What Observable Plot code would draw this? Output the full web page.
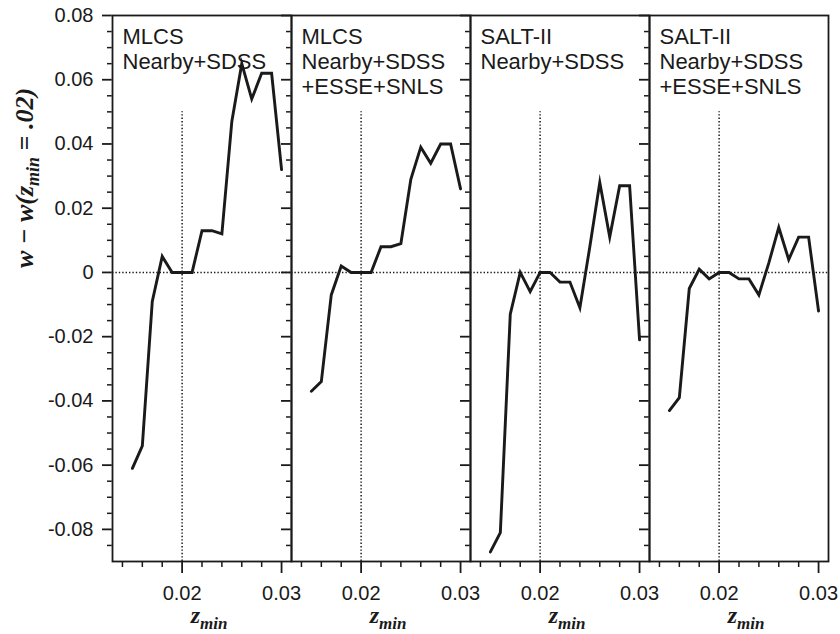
<!DOCTYPE html>
<html><head><meta charset="utf-8">
<script src="https://cdn.jsdelivr.net/npm/d3@7"></script>
<script src="https://cdn.jsdelivr.net/npm/@observablehq/plot@0.6"></script>
<style>
html,body{margin:0;padding:0;background:#fff;}
#chart{width:840px;height:634px;}
</style></head><body><div id="chart"></div>
<script>
// ---- data ----
const panels = ["p1", "p2", "p3", "p4"];
const panelTitles = [
  "MLCS\nNearby+SDSS",
  "MLCS\nNearby+SDSS\n+ESSE+SNLS",
  "SALT-II\nNearby+SDSS",
  "SALT-II\nNearby+SDSS\n+ESSE+SNLS"
];
const zMin = [0.015, 0.016, 0.017, 0.018, 0.019, 0.020, 0.021, 0.022, 0.023, 0.024, 0.025, 0.026, 0.027, 0.028, 0.029, 0.030];
const mlcsNearbySdss      = [-0.061, -0.054, -0.009, 0.005, 0, 0, 0, 0.013, 0.013, 0.012, 0.047, 0.065, 0.054, 0.062, 0.062, 0.032];
const mlcsAll             = [-0.037, -0.034, -0.007, 0.002, 0, 0, 0, 0.008, 0.008, 0.009, 0.029, 0.039, 0.034, 0.040, 0.040, 0.026];
const saltNearbySdss      = [-0.087, -0.081, -0.013, 0, -0.006, 0, 0, -0.003, -0.003, -0.011, 0.008, 0.028, 0.011, 0.027, 0.027, -0.021];
const saltAll             = [-0.043, -0.039, -0.005, 0.001, -0.002, 0, 0, -0.002, -0.002, -0.007, 0.003, 0.014, 0.004, 0.011, 0.011, -0.012];
const seriesByPanel = [mlcsNearbySdss, mlcsAll, saltNearbySdss, saltAll];

const yMajor = [0.08, 0.06, 0.04, 0.02, 0, -0.02, -0.04, -0.06, -0.08];
const yMajorLabels = ["0.08", "0.06", "0.04", "0.02", "0", "-0.02", "-0.04", "-0.06", "-0.08"];
const xMajor = [0.02, 0.03];
const xMajorLabels = ["0.02", "0.03"];
const xMinor = [0.014, 0.016, 0.018, 0.022, 0.024, 0.026, 0.028];
const yMinor = d3.range(-17, 17).map(i => +(i * 0.005).toFixed(3)).filter(v => !yMajor.some(m => Math.abs(m - v) < 1e-9));
const xDomain = [0.013, 0.031];
const yDomain = [-0.09, 0.08];
const zeroLine = [0];
const refZ = [0.02];
const refTop = 0.05;

// ---- layout ----
const W = 840, H = 634, mL = 111, mR = 12, mT = 15, mB = 73;
const facetW = (W - mL - mR) / panels.length;
const facetH = H - mT - mB;

// ---- tables ----
const rows = panels.flatMap((p, i) => zMin.map((z, j) => ({panel: p, z, dw: seriesByPanel[i][j]})));
const titleRows = panels.map((p, i) => ({panel: p, title: panelTitles[i]}));
const yFmt = d => yMajorLabels[yMajor.findIndex(v => Math.abs(v - d) < 1e-9)];
const xFmt = d => xMajorLabels[xMajor.findIndex(v => Math.abs(v - d) < 1e-9)];
const serif = "'Liberation Serif', 'DejaVu Serif', serif";
const ink = "#1a1a1a";

// ticks drawn as short rules hanging outside each facet frame
const yTicks = (vals, len, sw) => Plot.ruleY(vals, {stroke: ink, strokeWidth: sw, insetLeft: -len, insetRight: facetW});
const xTicks = (vals, len, sw) => Plot.ruleX(vals, {stroke: ink, strokeWidth: sw, insetTop: facetH, insetBottom: -len});

const plot = Plot.plot({
  width: W, height: H,
  marginLeft: mL, marginRight: mR, marginTop: mT, marginBottom: mB,
  style: {fontFamily: "'Liberation Sans', Arial, sans-serif", fontSize: "20px", color: ink, background: "#fff"},
  fx: {domain: panels, padding: 0, axis: null},
  x: {domain: xDomain, label: null},
  y: {domain: yDomain, label: null},
  marks: [
    Plot.ruleY(zeroLine, {stroke: ink, strokeWidth: 1.5, strokeDasharray: "1.4,2"}),
    Plot.ruleX(refZ, {y1: yDomain[0], y2: refTop, stroke: ink, strokeWidth: 1.5, strokeDasharray: "1.4,2"}),
    yTicks(yMinor, 5, 1.5),
    yTicks(yMajor, 10, 1.8),
    xTicks(xMinor, 6, 1.5),
    xTicks(xMajor, 12, 1.8),
    Plot.axisY({ticks: yMajor, tickSize: 0, tickPadding: 19, tickFormat: yFmt, fontSize: 20, label: null}),
    Plot.axisX({ticks: xMajor, tickSize: 0, tickPadding: 24, tickFormat: xFmt, fontSize: 20, label: null}),
    Plot.frame({stroke: ink, strokeWidth: 1.8}),
    Plot.line(rows, {fx: "panel", x: "z", y: "dw", stroke: ink, strokeWidth: 2.9, strokeLinejoin: "miter", strokeMiterlimit: 10}),
    Plot.text(titleRows, {fx: "panel", text: "title", frameAnchor: "top-left", textAnchor: "start", lineAnchor: "top", dx: 10, dy: 11, lineHeight: 1.14, fontSize: 22, fill: ink}),
    Plot.text(titleRows, {fx: "panel", text: () => "z", frameAnchor: "bottom", lineAnchor: "bottom", textAnchor: "end", dx: -2, dy: 61, fontFamily: serif, fontStyle: "italic", fontWeight: "bold", fontSize: 24, fill: ink}),
    Plot.text(titleRows, {fx: "panel", text: () => "min", frameAnchor: "bottom", lineAnchor: "bottom", textAnchor: "start", dx: -2, dy: 67, fontFamily: serif, fontStyle: "italic", fontWeight: "bold", fontSize: 17, fill: ink})
  ]
});
document.getElementById("chart").appendChild(plot);

// y-axis title with subscript
const svg = d3.select(plot.tagName.toLowerCase() === "svg" ? plot : plot.querySelector("svg"));
const t = svg.append("text")
  .attr("transform", "translate(33,178) rotate(-90)")
  .attr("text-anchor", "middle")
  .attr("font-family", serif)
  .attr("font-style", "italic")
  .attr("font-weight", "bold")
  .attr("font-size", 26)
  .attr("fill", ink);
t.append("tspan").text("w − w(z");
t.append("tspan").attr("font-size", 18).attr("dy", 6).text("min");
t.append("tspan").attr("dy", -6).text(" = .02)");
</script></body></html>
